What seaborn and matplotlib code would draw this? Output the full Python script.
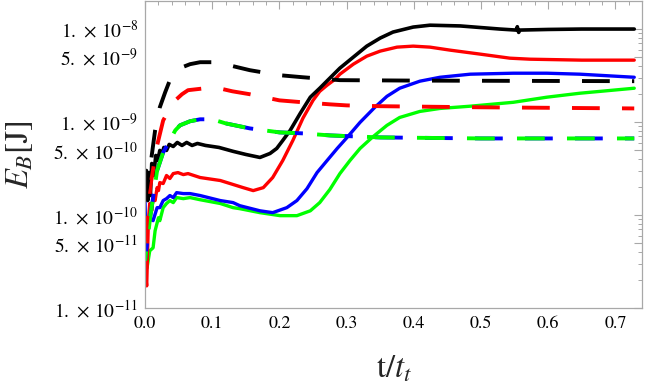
import numpy as np
import matplotlib
matplotlib.use("Agg")
import matplotlib.pyplot as plt
import matplotlib.ticker as mticker
import seaborn as sns

# ---- data (t/t_t, E_B in J) ----
t_black = [0.0, 0.002, 0.004, 0.006, 0.008, 0.010, 0.013, 0.016, 0.019, 0.022, 0.025, 0.028,
           0.032, 0.036, 0.042, 0.048, 0.055, 0.062, 0.070, 0.078, 0.09, 0.11, 0.131, 0.15,
           0.171, 0.186, 0.196, 0.205, 0.216, 0.231, 0.246, 0.26, 0.272, 0.29, 0.31, 0.33,
           0.35, 0.369, 0.399, 0.424, 0.469, 0.528, 0.552, 0.554, 0.556, 0.558, 0.6, 0.65, 0.728]
e_black = [2.07e-10, 3.01e-10, 1.43e-10, 2.86e-10, 1.62e-10, 3.58e-10, 2.66e-10, 4.37e-10,
           3.86e-10, 4.95e-10, 4.37e-10, 5.33e-10, 4.95e-10, 5.74e-10, 5.46e-10, 6.03e-10,
           5.60e-10, 6.03e-10, 5.60e-10, 5.88e-10, 5.60e-10, 5.33e-10, 4.84e-10, 4.48e-10,
           4.16e-10, 4.59e-10, 5.20e-10, 6.34e-10, 8.13e-10, 1.24e-9, 1.85e-9, 2.31e-9, 2.82e-9,
           3.80e-9, 4.99e-9, 6.55e-9, 8.00e-9, 9.28e-9, 1.05e-8, 1.10e-8, 1.08e-8, 1.00e-8,
           9.75e-9, 1.06e-8, 9.2e-9, 9.75e-9, 9.9e-9, 1.0e-8, 1.0e-8]

t_red = [0.0, 0.001, 0.0025, 0.005, 0.007, 0.010, 0.012, 0.015, 0.018, 0.020, 0.022, 0.027,
         0.032, 0.037, 0.042, 0.049, 0.057, 0.064, 0.082, 0.112, 0.131, 0.146, 0.161, 0.176,
         0.19, 0.205, 0.22, 0.235, 0.25, 0.26, 0.271, 0.283, 0.29, 0.31, 0.33, 0.35, 0.375,
         0.399, 0.424, 0.454, 0.499, 0.543, 0.573, 0.65, 0.728]
e_red = [4.12e-11, 2.22e-11, 1.73e-11, 8.69e-11, 1.33e-10, 1.11e-10, 1.54e-10, 1.43e-10,
         1.97e-10, 1.83e-10, 2.23e-10, 2.18e-10, 2.66e-10, 2.47e-10, 2.79e-10, 2.86e-10,
         2.72e-10, 2.79e-10, 2.53e-10, 2.35e-10, 2.13e-10, 1.97e-10, 1.83e-10, 1.97e-10,
         2.53e-10, 3.86e-10, 6.34e-10, 1.10e-9, 1.71e-9, 2.14e-9, 2.49e-9, 2.89e-9, 3.27e-9,
         4.19e-9, 5.11e-9, 5.79e-9, 6.39e-9, 6.55e-9, 6.39e-9, 5.93e-9, 5.37e-9, 4.86e-9,
         4.74e-9, 4.63e-9, 4.63e-9]

t_blue = [0.0, 0.001, 0.003, 0.007, 0.012, 0.018, 0.022, 0.027, 0.032, 0.037, 0.042, 0.047,
          0.057, 0.067, 0.082, 0.112, 0.131, 0.141, 0.171, 0.19, 0.211, 0.226, 0.241, 0.256,
          0.271, 0.286, 0.302, 0.32, 0.342, 0.36, 0.379, 0.409, 0.439, 0.484, 0.548, 0.598,
          0.647, 0.728]
e_blue = [1.43e-10, 7.30e-11, 8.69e-11, 9.36e-11, 8.69e-11, 1.20e-10, 1.20e-10, 1.43e-10,
          1.50e-10, 1.62e-10, 1.54e-10, 1.74e-10, 1.70e-10, 1.70e-10, 1.62e-10, 1.43e-10,
          1.36e-10, 1.26e-10, 1.11e-10, 1.06e-10, 1.20e-10, 1.43e-10, 1.92e-10, 2.86e-10,
          3.86e-10, 5.20e-10, 7.00e-10, 9.92e-10, 1.44e-9, 1.89e-9, 2.31e-9, 2.75e-9, 3.03e-9,
          3.27e-9, 3.35e-9, 3.35e-9, 3.27e-9, 3.03e-9]

t_green = [0.0, 0.001, 0.003, 0.007, 0.012, 0.015, 0.020, 0.022, 0.027, 0.032, 0.037, 0.042,
           0.047, 0.057, 0.067, 0.082, 0.112, 0.131, 0.141, 0.171, 0.201, 0.226, 0.246, 0.26,
           0.275, 0.29, 0.305, 0.32, 0.338, 0.36, 0.379, 0.409, 0.439, 0.484, 0.548, 0.598,
           0.647, 0.728]
e_green = [9.84e-11, 5.28e-11, 2.70e-11, 4.12e-11, 4.44e-11, 6.78e-11, 9.36e-11, 8.69e-11,
           1.20e-10, 1.33e-10, 1.43e-10, 1.36e-10, 1.54e-10, 1.50e-10, 1.54e-10, 1.46e-10,
           1.33e-10, 1.20e-10, 1.17e-10, 1.06e-10, 9.84e-11, 9.84e-11, 1.11e-10, 1.36e-10,
           1.88e-10, 2.79e-10, 3.86e-10, 5.20e-10, 6.83e-10, 9.21e-10, 1.12e-9, 1.30e-9,
           1.40e-9, 1.48e-9, 1.63e-9, 1.85e-9, 2.04e-9, 2.31e-9]

# dashed curves
t_black_d = [0.0, 0.008, 0.015, 0.022, 0.03, 0.037, 0.045, 0.052, 0.067, 0.082, 0.1, 0.112,
             0.156, 0.2, 0.235, 0.29, 0.4, 0.728]
e_black_d = [1.43e-10, 3.41e-10, 8.13e-10, 1.44e-9, 2.09e-9, 2.82e-9, 3.35e-9, 3.80e-9,
             4.19e-9, 4.40e-9, 4.40e-9, 4.30e-9, 3.61e-9, 3.19e-9, 3.03e-9, 2.82e-9, 2.79e-9,
             2.75e-9]

t_red_d = [0.0, 0.008, 0.018, 0.027, 0.037, 0.045, 0.055, 0.064, 0.09, 0.11, 0.13, 0.156,
           0.2, 0.235, 0.275, 0.3, 0.35, 0.5, 0.728]
e_red_d = [5.28e-11, 2.07e-10, 5.60e-10, 1.04e-9, 1.40e-9, 1.71e-9, 1.99e-9, 2.20e-9,
           2.31e-9, 2.31e-9, 2.14e-9, 1.99e-9, 1.71e-9, 1.63e-9, 1.55e-9, 1.51e-9, 1.48e-9,
           1.44e-9, 1.40e-9]

t_gb_d = [0.0, 0.008, 0.018, 0.027, 0.037, 0.045, 0.052, 0.067, 0.082, 0.1, 0.12, 0.156,
          0.2, 0.235, 0.275, 0.35, 0.5, 0.728]
e_gb_d = [3.22e-11, 9.84e-11, 3.01e-10, 4.71e-10, 6.34e-10, 8.13e-10, 9.21e-10, 1.02e-9,
          1.07e-9, 1.07e-9, 9.67e-10, 8.54e-10, 7.74e-10, 7.55e-10, 7.18e-10, 6.83e-10,
          6.66e-10, 6.66e-10]

y_ticks = [1e-11, 5e-11, 1e-10, 5e-10, 1e-9, 5e-9, 1e-8]
y_ticklabels = [r'$1.\,\times\,10^{-11}$', r'$5.\,\times\,10^{-11}$', r'$1.\,\times\,10^{-10}$',
                r'$5.\,\times\,10^{-10}$', r'$1.\,\times\,10^{-9}$', r'$5.\,\times\,10^{-9}$',
                r'$1.\,\times\,10^{-8}$']
x_ticks = [0.0, 0.1, 0.2, 0.3, 0.4, 0.5, 0.6, 0.7]
x_ticklabels = ['0.0', '0.1', '0.2', '0.3', '0.4', '0.5', '0.6', '0.7']

# ---- style ----
sns.set_style("white")
plt.rcParams['font.family'] = ['STIXGeneral', 'DejaVu Serif']
plt.rcParams['mathtext.fontset'] = 'stix'
plt.rcParams['lines.scale_dashes'] = False

fig = plt.figure(figsize=(6.48, 3.91), dpi=100)
ax = fig.add_axes([0.2238, 0.2123, 0.767, 0.785])

green = '#00ff00'
dash_on, dash_off = 20.0, 16.0
period = dash_on + dash_off


def draw(t, e, color, lw):
    sns.lineplot(x=t, y=e, ax=ax, color=color, linewidth=lw, sort=False, estimator=None)
    return ax.lines[-1]


# solid curves
draw(t_green, e_green, green, 2.4)
draw(t_blue, e_blue, 'blue', 2.4)
draw(t_red, e_red, 'red', 2.4)
draw(t_black, e_black, 'black', 2.6)

# dashed curves (blue under green, shifted so a bit of blue shows)
ln_b = draw(t_gb_d, e_gb_d, 'blue', 2.8)
ln_g = draw(t_gb_d, e_gb_d, green, 2.8)
ln_r = draw(t_red_d, e_red_d, 'red', 2.8)
ln_k = draw(t_black_d, e_black_d, 'black', 2.8)

ax.set_yscale('log')
ax.set_xlim(0, 0.7396)
ax.set_ylim(1e-11, 2.0e-8)


def dash_offset(t, e, x_start_px):
    # phase the dash pattern so that a dash begins at pixel column x_start_px
    pts = ax.transData.transform(np.column_stack([t, e]))
    seg = np.hypot(np.diff(pts[:, 0]), np.diff(pts[:, 1]))
    cum = np.concatenate([[0.0], np.cumsum(seg)])
    s0 = np.interp(x_start_px, pts[:, 0], cum)
    return (-s0 * 72.0 / fig.dpi) % period


ln_k.set_linestyle((dash_offset(t_black_d, e_black_d, 382), (dash_on, dash_off)))
ln_r.set_linestyle((dash_offset(t_red_d, e_red_d, 372), (dash_on, dash_off)))
ln_g.set_linestyle((dash_offset(t_gb_d, e_gb_d, 367), (dash_on, dash_off)))
ln_b.set_linestyle((dash_offset(t_gb_d, e_gb_d, 375), (dash_on, dash_off)))

ax.set_yticks(y_ticks)
ax.set_yticklabels(y_ticklabels)
ax.yaxis.set_minor_locator(mticker.LogLocator(base=10, subs=(2, 3, 4, 6, 7, 8, 9)))
ax.yaxis.set_minor_formatter(mticker.NullFormatter())
ax.set_xticks(x_ticks)
ax.set_xticklabels(x_ticklabels)
ax.xaxis.set_minor_locator(mticker.MultipleLocator(0.02))

for s in ax.spines.values():
    s.set_visible(True)
    s.set_color('#a8a8a8')
    s.set_linewidth(0.9)

ax.tick_params(which='both', direction='in', top=True, right=True,
               colors='#a8a8a8', labelcolor='black')
ax.tick_params(axis='x', labelsize=13)
ax.tick_params(axis='y', labelsize=14)
ax.tick_params(which='major', length=5.5, width=0.8)
ax.tick_params(which='minor', length=3, width=0.7)
ax.tick_params(axis='y', which='major', pad=5)
ax.tick_params(axis='x', which='major', pad=6)

ax.set_xlabel(r'$\mathrm{t}/t_t$', fontsize=23.5)
ax.set_ylabel(r'$E_B[\mathrm{J}]$', fontsize=23.5)
ax.yaxis.set_label_coords(-0.222, 0.5)
ax.xaxis.set_label_coords(0.5, -0.15)

fig.savefig('out.png', dpi=100)
